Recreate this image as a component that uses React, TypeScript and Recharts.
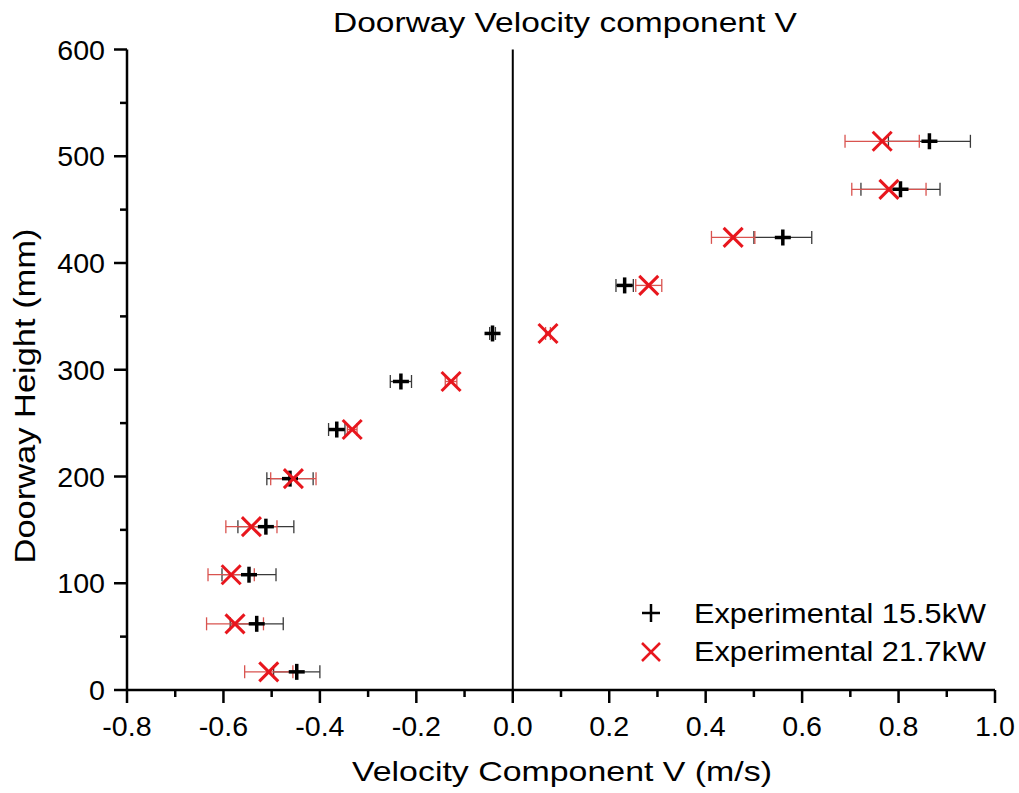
import React from "react";
import { ScatterChart, Scatter, XAxis, YAxis, ErrorBar, ReferenceLine, Customized } from "recharts";

const heights = [17, 62, 108, 153, 198, 244, 289, 334, 379, 424, 469, 514];

const v155 = [-0.448, -0.531, -0.547, -0.512, -0.462, -0.365, -0.232, -0.042, 0.232, 0.56, 0.804, 0.864];
const err155 = [0.048, 0.055, 0.056, 0.058, 0.048, 0.017, 0.022, 0.006, 0.018, 0.06, 0.082, 0.085];

const v217 = [-0.506, -0.576, -0.584, -0.542, -0.455, -0.333, -0.128, 0.073, 0.282, 0.457, 0.78, 0.766];
const err217 = [0.05, 0.059, 0.048, 0.053, 0.047, 0.01, 0.012, 0.005, 0.027, 0.045, 0.077, 0.077];

const seriesNames = ["Experimental 15.5kW", "Experimental 21.7kW"];

const xTicks = [-0.8, -0.7, -0.6, -0.5, -0.4, -0.3, -0.2, -0.1, 0, 0.1, 0.2, 0.3, 0.4, 0.5, 0.6, 0.7, 0.8, 0.9, 1.0];
const yTicks = [0, 50, 100, 150, 200, 250, 300, 350, 400, 450, 500, 550, 600];

const FONT = '"Liberation Sans", Arial, Helvetica, sans-serif';
const RED = "#e8161d";

const data155 = heights.map((h, i) => ({ x: v155[i], y: h, err: err155[i] }));
const data217 = heights.map((h, i) => ({ x: v217[i], y: h, err: err217[i] }));

const Plus = ({ cx, cy, r = 8, w = 3.5 }: any) => (
  <g>
    <line x1={cx - r} x2={cx + r} y1={cy} y2={cy} stroke="#000" strokeWidth={w} />
    <line x1={cx} x2={cx} y1={cy - r} y2={cy + r} stroke="#000" strokeWidth={w} />
  </g>
);

const Cross = ({ cx, cy, r = 9.5, w = 3 }: any) => (
  <g>
    <line x1={cx - r} x2={cx + r} y1={cy - r} y2={cy + r} stroke={RED} strokeWidth={w} />
    <line x1={cx - r} x2={cx + r} y1={cy + r} y2={cy - r} stroke={RED} strokeWidth={w} />
  </g>
);

const XTick = (props: any) => {
  const { x, y, payload } = props;
  const v = payload.value;
  const major = Math.abs(Math.round(v * 10)) % 2 === 0;
  return (
    <g>
      <line x1={x} x2={x} y1={y} y2={y + (major ? 13 : 7)} stroke="#000" strokeWidth={2.5} />
      {major && (
        <text transform={`translate(${x},${y + 45.5}) scale(1.06,1)`} textAnchor="middle" fontSize={27} fill="#000" fontFamily={FONT}>
          {v.toFixed(1)}
        </text>
      )}
    </g>
  );
};

const YTick = (props: any) => {
  const { x, y, payload } = props;
  const v = payload.value;
  const major = v % 100 === 0;
  return (
    <g>
      <line x1={x - (major ? 13 : 7)} x2={x} y1={y} y2={y} stroke="#000" strokeWidth={2.5} />
      {major && (
        <text transform={`translate(${x - 22},${y + 10}) scale(1.06,1)`} textAnchor="end" fontSize={27} fill="#000" fontFamily={FONT}>
          {v}
        </text>
      )}
    </g>
  );
};

const Overlay = () => (
  <g fontFamily={FONT} fill="#000">
    <text x={565} y={32} textAnchor="middle" fontSize={27} textLength={464} lengthAdjust="spacingAndGlyphs">
      Doorway Velocity component V
    </text>
    <text x={562} y={781} textAnchor="middle" fontSize={28} textLength={420} lengthAdjust="spacingAndGlyphs">
      Velocity Component V (m/s)
    </text>
    <text transform="translate(35,396) rotate(-90)" textAnchor="middle" fontSize={30} textLength={335} lengthAdjust="spacingAndGlyphs">
      Doorway Height (mm)
    </text>
    <Plus cx={651} cy={613} r={9} w={2.5} />
    <text x={694} y={623} fontSize={27} textLength={292} lengthAdjust="spacingAndGlyphs">
      {seriesNames[0]}
    </text>
    <Cross cx={651} cy={652} r={9} w={2.5} />
    <text x={694} y={661} fontSize={27} textLength={292} lengthAdjust="spacingAndGlyphs">
      {seriesNames[1]}
    </text>
  </g>
);

export default function App() {
  return (
    <div style={{ position: "absolute", left: 0, top: 0, width: 1019, height: 793, background: "#fff" }}>
      <ScatterChart
        width={1019}
        height={793}
        margin={{ top: 49.5, right: 24, bottom: 73, left: 67 }}
        style={{ fontFamily: FONT }}
      >
        <XAxis
          type="number"
          dataKey="x"
          domain={[-0.8, 1.0]}
          ticks={xTicks}
          interval={0}
          tickSize={0}
          tickMargin={0}
          tickLine={false}
          tick={<XTick />}
          axisLine={{ stroke: "#000", strokeWidth: 2.5 }}
          allowDataOverflow
        />
        <YAxis
          type="number"
          dataKey="y"
          domain={[0, 600]}
          ticks={yTicks}
          interval={0}
          width={60}
          tickSize={0}
          tickMargin={0}
          tickLine={false}
          tick={<YTick />}
          axisLine={{ stroke: "#000", strokeWidth: 2.5 }}
          allowDataOverflow
        />
        <ReferenceLine x={0} stroke="#000" strokeWidth={2} />
        <Scatter name={seriesNames[0]} data={data155} isAnimationActive={false} shape={(p: any) => <Plus cx={p.cx} cy={p.cy} />}>
          <ErrorBar dataKey="err" direction="x" width={6.5} stroke="#3a3a3a" strokeWidth={1.3} />
        </Scatter>
        <Scatter name={seriesNames[1]} data={data217} isAnimationActive={false} shape={(p: any) => <Cross cx={p.cx} cy={p.cy} />}>
          <ErrorBar dataKey="err" direction="x" width={6.5} stroke="#d9534f" strokeWidth={1.3} />
        </Scatter>
        <Customized component={Overlay} />
      </ScatterChart>
    </div>
  );
}
